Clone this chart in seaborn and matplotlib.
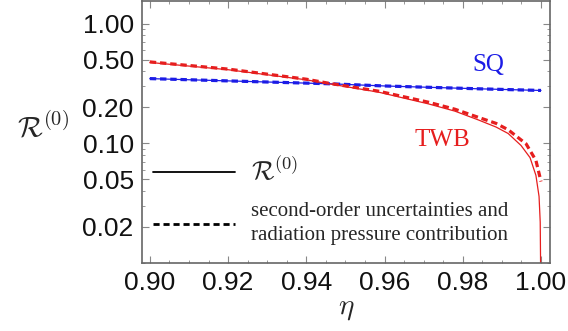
import numpy as np
import pandas as pd
import matplotlib
matplotlib.use("Agg")
import matplotlib.pyplot as plt
from matplotlib.lines import Line2D
from matplotlib.ticker import FixedLocator, LogLocator, NullFormatter
import seaborn as sns

# ---- data ----
eta_sq = [0.90, 0.92, 0.94, 0.946, 0.96, 0.984, 1.00]
sq_vals = [0.348, 0.333, 0.319, 0.315, 0.302, 0.286, 0.277]

eta_twb = [0.90, 0.92, 0.94, 0.9458, 0.9585, 0.9712, 0.978, 0.984, 0.9885,
           0.9916, 0.9949, 0.9972, 0.9987, 0.9995, 0.9998, 1.0000]
twb_solid = [0.475, 0.413, 0.340, 0.315, 0.268, 0.214, 0.186, 0.157, 0.137,
             0.121, 0.096, 0.076, 0.054, 0.036, 0.022, 0.004]

eta_twb_d = [0.90, 0.92, 0.94, 0.9458, 0.9585, 0.9712, 0.978, 0.984, 0.9885,
             0.9916, 0.9962, 0.9987, 1.0000]
twb_dashed = [0.480, 0.418, 0.344, 0.318, 0.273, 0.221, 0.193, 0.165, 0.147,
              0.130, 0.099, 0.072, 0.048]

ytick_vals = [0.02, 0.05, 0.10, 0.20, 0.50, 1.00]
xtick_vals = [0.90, 0.92, 0.94, 0.96, 0.98, 1.00]

df_sq = pd.DataFrame({"eta": eta_sq, "R": sq_vals})
df_ts = pd.DataFrame({"eta": eta_twb, "R": twb_solid})
df_td = pd.DataFrame({"eta": eta_twb_d, "R": twb_dashed})

sns.set_style("ticks")
plt.rcParams["mathtext.fontset"] = "cm"
plt.rcParams["font.family"] = ["Liberation Sans", "DejaVu Sans"]

BLUE = "#1c1ce6"
RED = "#e61e1e"

fig = plt.figure(figsize=(5.68, 3.31), dpi=100)
ax = fig.add_axes([142 / 568, 1 - 263 / 331, 408 / 568, 262 / 331])

dash_style = dict(lw=2.3, linestyle=(0, (2.0, 1.2)))
sns.lineplot(data=df_sq, x="eta", y="R", ax=ax, color=BLUE, lw=0.9,
             estimator=None, sort=False)
sns.lineplot(data=df_sq, x="eta", y="R", ax=ax, color=BLUE,
             estimator=None, sort=False, **dash_style)
sns.lineplot(data=df_ts, x="eta", y="R", ax=ax, color=RED, lw=0.9,
             estimator=None, sort=False)
sns.lineplot(data=df_td, x="eta", y="R", ax=ax, color=RED,
             estimator=None, sort=False, **dash_style)

ax.set_yscale("log")
ax.set_ylim(0.01, 1.55)
ax.set_xlim(0.898, 1.0023)

ax.yaxis.set_major_locator(FixedLocator(ytick_vals))
ax.set_yticklabels([f"{v:.2f}" for v in ytick_vals])
ax.yaxis.set_minor_locator(LogLocator(base=10, subs=np.arange(1, 10)))
ax.yaxis.set_minor_formatter(NullFormatter())
ax.set_xticks(xtick_vals)
ax.set_xticklabels([f"{v:.2f}" for v in xtick_vals])
ax.set_xticks(np.arange(0.90, 1.0001, 0.005), minor=True)

ax.tick_params(which="both", direction="in", top=True, right=True,
               color="#888888", labelsize=19, labelcolor="#111111")
ax.tick_params(which="major", length=5, width=0.8, pad=6)
ax.tick_params(which="minor", length=2.5, width=0.6)
for s in ax.spines.values():
    s.set_color("#666666")
    s.set_linewidth(1.2)

ax.set_xlabel(r"$\eta$", fontsize=21, labelpad=-1)
ax.set_ylabel(r"$\mathcal{R}^{(0)}$", fontsize=21, rotation=0)
ax.yaxis.set_label_coords(-0.242, 0.46)

ax.text(0.848, 0.756, "SQ", transform=ax.transAxes, color=BLUE,
        fontsize=18, family="Liberation Serif", ha="center", va="center")
ax.text(0.735, 0.469, "TWB", transform=ax.transAxes, color=RED,
        fontsize=18, family="Liberation Serif", ha="center", va="center")

handles = [Line2D([], [], color="black", lw=1.3),
           Line2D([], [], color="black", lw=2.0, linestyle=(0, (2.2, 1.4)))]
labels = [r"$\mathcal{R}^{(0)}$",
          "second-order uncertainties and\nradiation pressure contribution"]
leg = ax.legend(handles, labels, loc="upper left",
                bbox_to_anchor=(0.027, 0.41), frameon=False,
                borderaxespad=0, borderpad=0, handlelength=3.95,
                handletextpad=0.75, labelspacing=0.85,
                prop={"family": "Liberation Serif", "size": 15})
leg.get_texts()[0].set_fontsize(19)
leg.get_texts()[1].set_linespacing(1.35)

fig.savefig("out.png", dpi=100)
